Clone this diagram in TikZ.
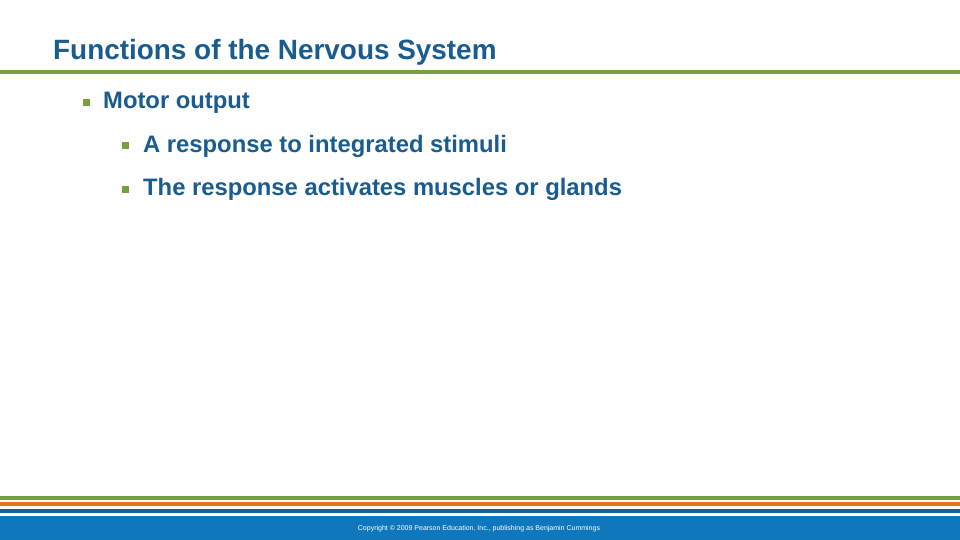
\documentclass[tikz,border=0pt]{standalone}
\usepackage{fontspec}
\setmainfont{Liberation Sans}
\definecolor{tblue}{HTML}{1B5C8E}
\definecolor{lgreen}{HTML}{76A03C}
\definecolor{lorange}{HTML}{E8731E}
\definecolor{dblue}{HTML}{1F5F8F}
\definecolor{bblue}{HTML}{0F78BC}
\begin{document}
\begin{tikzpicture}[x=1pt,y=-1pt,
  txt/.style={anchor=west,inner sep=0,text=tblue,font=\bfseries\fontsize{23.8}{27}\selectfont},
  bul/.style={fill=lgreen,minimum size=7pt,inner sep=0}]
\useasboundingbox (0,0) rectangle (960,540);
\fill[white] (0,0) rectangle (960,540);
\node[anchor=west,inner sep=0,text=tblue,font=\bfseries\fontsize{27.9}{32}\selectfont] (title) at (53,52) {Functions of the Nervous System};
\fill[lgreen] (0,70) rectangle (960,74);
\node[bul] (b1) at (86,103) {};
\node[txt] (t1) at (103,103) {Motor output};
\node[bul] (b2) at (125,146) {};
\node[txt] (t2) at (143,146) {A response to integrated stimuli};
\node[bul] (b3) at (125,189) {};
\node[txt] (t3) at (143,189) {The response activates muscles or glands};
\fill[lgreen] (0,495.5) rectangle (960,499.5);
\fill[lorange] (0,502) rectangle (960,506);
\fill[dblue] (0,508.5) rectangle (960,512.5);
\fill[bblue] (0,516) rectangle (960,540);
\node[inner sep=0,text=white,font=\fontsize{7}{8}\selectfont] (copy) at (479,529) {Copyright © 2009 Pearson Education, Inc., publishing as Benjamin Cummings};
\end{tikzpicture}
\end{document}
